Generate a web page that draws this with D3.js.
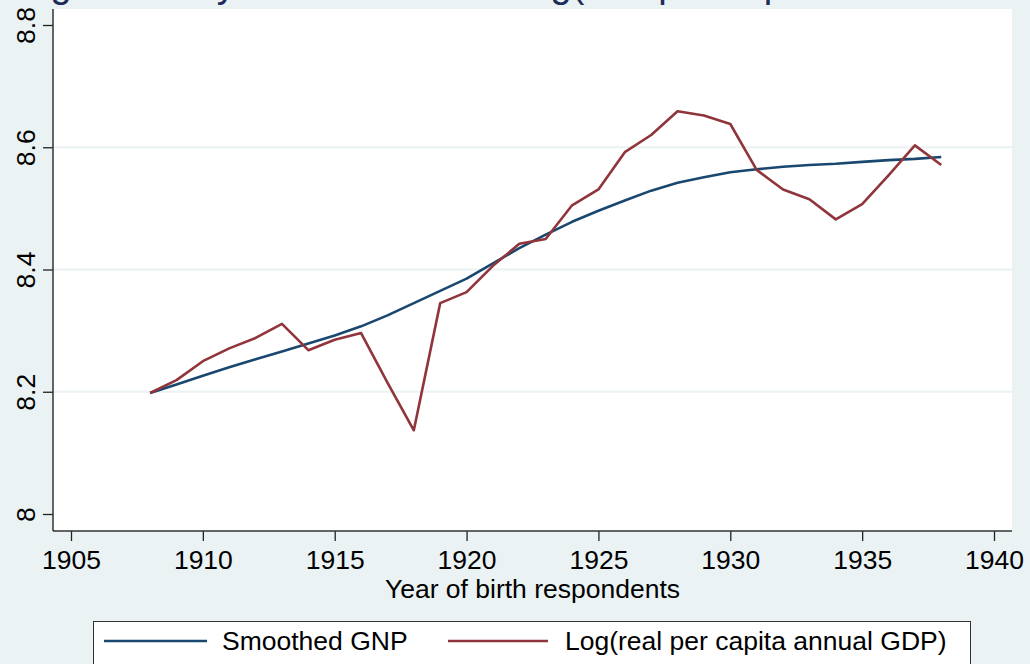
<!DOCTYPE html>
<html>
<head>
<meta charset="utf-8">
<script src="https://cdn.jsdelivr.net/npm/d3@7"></script>
<style>
  body { margin: 0; background: #eaf2f3; }
  svg { display: block; font-family: "Liberation Sans", Arial, sans-serif; }
</style>
</head>
<body>
<div id="chart"></div>
<script>
//------Data
const years = d3.range(1908, 1939);
const smoothedGnp = [8.198, 8.212, 8.226, 8.240, 8.253, 8.266, 8.279, 8.292, 8.307, 8.325,
  8.345, 8.365, 8.385, 8.410, 8.435, 8.457, 8.478, 8.496, 8.513, 8.529,
  8.542, 8.551, 8.559, 8.564, 8.568, 8.571, 8.573, 8.576, 8.579, 8.581, 8.584];
const logGdp = [8.198, 8.219, 8.250, 8.271, 8.288, 8.311, 8.268, 8.285, 8.296, 8.215,
  8.137, 8.345, 8.363, 8.406, 8.442, 8.450, 8.505, 8.531, 8.592, 8.620,
  8.659, 8.652, 8.638, 8.563, 8.531, 8.515, 8.482, 8.507, 8.554, 8.603, 8.571];
const xTicks = [1905, 1910, 1915, 1920, 1925, 1930, 1935, 1940];
const yTicks = [8, 8.2, 8.4, 8.6, 8.8];
const seriesNames = ["Smoothed GNP", "Log(real per capita annual GDP)"];
const seriesColors = ["#1a476f", "#90353b"];

const W = 1030, H = 664;
const plot = { left: 53, right: 1012, top: 9, bottom: 531 };

const svg = d3.select("#chart")
  .append("svg")
  .attr("width", W)
  .attr("height", H);

svg.append("rect")
  .attr("width", W)
  .attr("height", H)
  .attr("fill", "#eaf2f3");

//------Title, cut off at the top edge as in the picture
svg.append("text")
  .attr("x", -48)
  .attr("y", -3)
  .attr("font-size", 38)
  .attr("fill", "#1c2b5c")
  .text("Average GNP by birth cohort and log(real per capita annual GDP)");

//------Plot region
svg.append("rect")
  .attr("x", plot.left)
  .attr("y", plot.top)
  .attr("width", plot.right - plot.left)
  .attr("height", plot.bottom - plot.top)
  .attr("fill", "#ffffff");

//------Scales
const x = d3.scaleLinear().domain([1905, 1940]).range([71, 994]);
const y = d3.scaleLinear().domain([8, 8.8]).range([514, 25]);

//------Grid lines
svg.append("g")
  .selectAll("line")
  .data(yTicks.filter(v => v > 8 && v < 8.8))
  .enter()
  .append("line")
  .attr("x1", plot.left)
  .attr("x2", plot.right)
  .attr("y1", d => y(d))
  .attr("y2", d => y(d))
  .attr("stroke", "#eaf2f3")
  .attr("stroke-width", 2);

//------Y axis
const yAxis = svg.append("g")
  .attr("transform", `translate(${plot.left},0)`)
  .call(d3.axisLeft(y).tickValues(yTicks).tickSize(10).tickFormat(d3.format("")));
yAxis.select(".domain").remove();
yAxis.selectAll(".tick line").attr("stroke", "#222").attr("stroke-width", 1.3);
yAxis.selectAll(".tick text")
  .attr("transform", "rotate(-90)")
  .attr("x", 0)
  .attr("y", -18)
  .attr("dy", 0)
  .attr("text-anchor", "middle")
  .attr("font-size", 26.5)
  .attr("font-family", "Liberation Sans, Arial, sans-serif")
  .attr("fill", "#000");

//------X axis
const xAxis = svg.append("g")
  .attr("transform", `translate(0,${plot.bottom})`)
  .call(d3.axisBottom(x).tickValues(xTicks).tickSize(10).tickFormat(d3.format("d")));
xAxis.select(".domain").remove();
xAxis.selectAll(".tick line").attr("stroke", "#222").attr("stroke-width", 1.3);
xAxis.selectAll(".tick text")
  .attr("y", 38)
  .attr("dy", 0)
  .attr("font-size", 26.5)
  .attr("font-family", "Liberation Sans, Arial, sans-serif")
  .attr("fill", "#000");

//------Axis lines
svg.append("line")
  .attr("x1", plot.left).attr("x2", plot.left)
  .attr("y1", plot.top).attr("y2", plot.bottom)
  .attr("stroke", "#333").attr("stroke-width", 1.5);
svg.append("line")
  .attr("x1", plot.left).attr("x2", plot.right)
  .attr("y1", plot.bottom).attr("y2", plot.bottom)
  .attr("stroke", "#333").attr("stroke-width", 1.5);

svg.append("text")
  .attr("x", (plot.left + plot.right) / 2)
  .attr("y", 598)
  .attr("text-anchor", "middle")
  .attr("font-size", 26.5)
  .text("Year of birth respondents");

//------Lines
const line = d3.line()
  .x((d, i) => x(years[i]))
  .y(d => y(d));

[smoothedGnp, logGdp].forEach((s, k) => {
  svg.append("path")
    .datum(s)
    .attr("d", line)
    .attr("fill", "none")
    .attr("stroke", seriesColors[k])
    .attr("stroke-width", 2.6)
    .attr("stroke-linejoin", "round");
});

//------Legend
svg.append("rect")
  .attr("x", 93.5)
  .attr("y", 621.5)
  .attr("width", 877)
  .attr("height", 70)
  .attr("fill", "#ffffff")
  .attr("stroke", "#333")
  .attr("stroke-width", 1);

const legendPos = [{ x1: 104, x2: 207, tx: 222 }, { x1: 448, x2: 548, tx: 565 }];
legendPos.forEach((p, k) => {
  svg.append("line")
    .attr("x1", p.x1).attr("x2", p.x2)
    .attr("y1", 641).attr("y2", 641)
    .attr("stroke", seriesColors[k])
    .attr("stroke-width", 2.6);
  svg.append("text")
    .attr("x", p.tx)
    .attr("y", 650)
    .attr("font-size", 26.5)
    .text(seriesNames[k]);
});
</script>
</body>
</html>
